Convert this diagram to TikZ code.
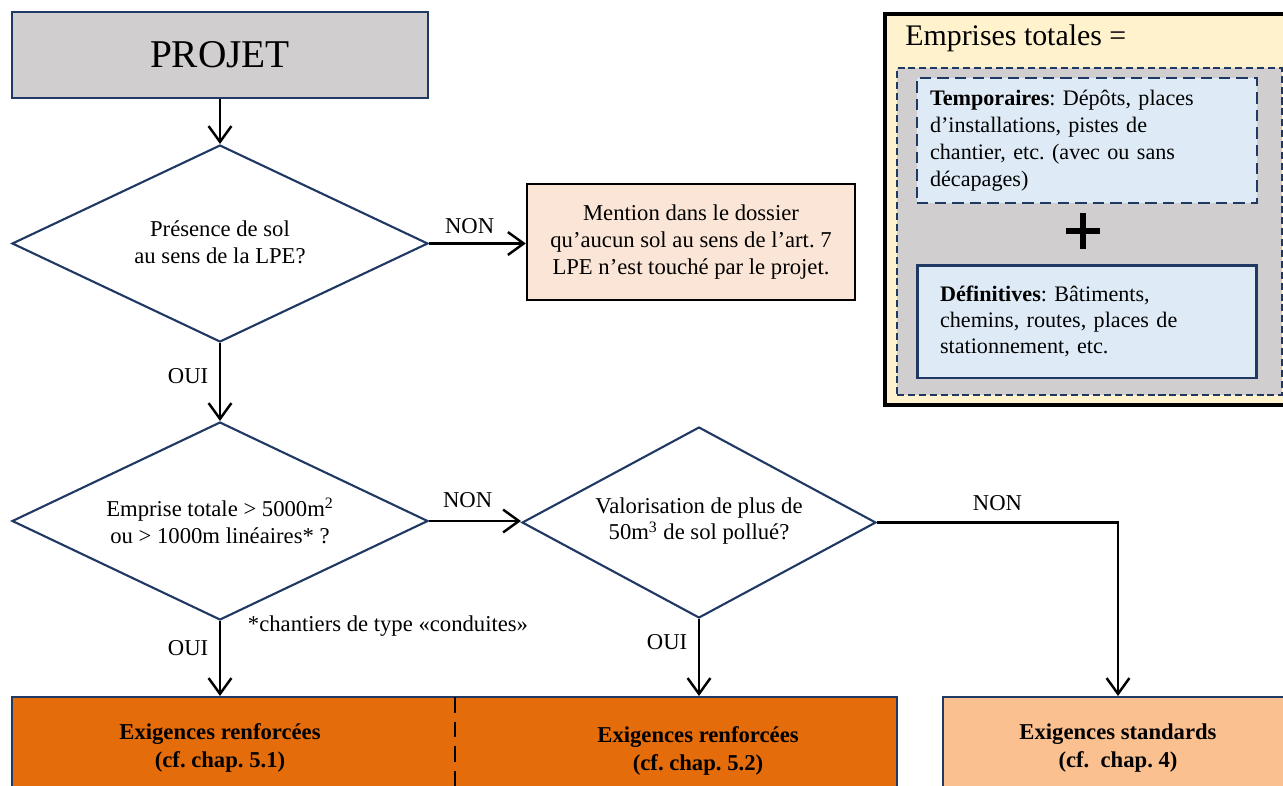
\documentclass[tikz,border=0pt]{standalone}
\usepackage{fontspec}
\setmainfont{Liberation Serif}
\usetikzlibrary{shapes.geometric,arrows.meta}
\definecolor{navy}{HTML}{1F3864}
\definecolor{projgray}{HTML}{D0CECE}
\definecolor{mentionfill}{HTML}{FBE5D6}
\definecolor{orangefill}{HTML}{E46C0A}
\definecolor{stdfill}{HTML}{FAC090}
\definecolor{yellowfill}{HTML}{FFF2CC}
\definecolor{bluefill}{HTML}{DEEBF7}
\frenchspacing
\begin{document}
\begin{tikzpicture}[x=0.02cm,y=-0.02cm,
  box/.style={draw=navy,line width=1.2pt,rectangle,inner sep=0pt},
  dia/.style={draw=navy,line width=1.2pt,diamond,inner sep=0pt},
  arr/.style={line width=1.4pt,-{Straight Barb[length=9pt,width=13pt]}},
  txt/.style={font=\fontsize{12.9}{15.3}\selectfont,align=center,inner sep=0pt},
  btxt/.style={font=\fontsize{12.9}{15.9}\selectfont\bfseries,align=center,inner sep=0pt},
  lbl/.style={font=\fontsize{12.9}{14}\selectfont,inner sep=0pt}]
\useasboundingbox (0,0) rectangle (1283,785);
\clip (0,0) rectangle (1283,785);
\fill[white] (0,0) rectangle (1283,785);

% PROJET
\node[box,fill=projgray,minimum width=8.32cm,minimum height=1.72cm,
  font=\fontsize{22.4}{26}\selectfont] (p) at (220,55) {PROJET};

% Diamond 1
\node[dia,minimum width=8.32cm,minimum height=3.94cm] (d1) at (220,243.5) {};
\node[txt] (d1t) at (220,242) {Présence de sol\\au sens de la LPE?};

% Mention box
\node[draw=black,line width=1.4pt,fill=mentionfill,minimum width=6.56cm,minimum height=2.32cm,
  txt] (m) at (691,242) {Mention dans le dossier\\qu’aucun sol au sens de l’art. 7\\LPE n’est touché par le projet.};

% Diamond 2
\node[dia,minimum width=8.32cm,minimum height=3.96cm] (d2) at (220,521) {};
\node[txt] (d2t) at (220,521) {Emprise totale > 5000m\textsuperscript{2}\\ou > 1000m linéaires* ?};

% Diamond 3
\node[dia,minimum width=7.08cm,minimum height=3.82cm] (d3) at (699,522.5) {};
\node[txt] (d3t) at (699,521) {Valorisation de plus de\\50m\textsuperscript{3} de sol pollué?};

% Bottom boxes
\node[box,fill=orangefill,minimum width=17.7cm,minimum height=2.06cm] (r) at (454.5,748.5) {};
\coordinate (dv1) at (455,697);
\coordinate (dv2) at (455,790);
\draw[line width=1.2pt,dash pattern=on 9pt off 5pt] (dv1) -- (dv2);
\node[btxt] (r1t) at (220,748) {Exigences renforcées\\(cf. chap. 5.1)};
\node[btxt] (r2t) at (698,751) {Exigences renforcées\\(cf. chap. 5.2)};
\node[box,fill=stdfill,minimum width=7cm,minimum height=2.06cm] (s) at (1118,748.5) {};
\node[btxt] (st) at (1118,748) {Exigences standards\\(cf.\ \ chap. 4)};

% Connectors
\draw[arr] (p.south) -- (d1.north);
\draw[arr] (d1.east) -- (d1.east -| m.west) node[lbl,pos=0.42,above=5pt] {NON};
\draw[arr] (d1.south) -- (d2.north) node[lbl,pos=0.42,left=6pt] {OUI};
\draw[arr] (d2.east) -- (d2.east -| d3.west) node[lbl,pos=0.42,above=7pt] {NON};
\draw[arr] (d2.south) -- (d2.south |- r.north) node[lbl,pos=0.36,left=6pt] {OUI};
\draw[arr] (d3.south) -- (d3.south |- r.north) node[lbl,pos=0.3,left=6pt] {OUI};
\draw[arr] (d3.east) -| (s.north) node[lbl,pos=0.25,above=6pt] {NON};
\node[lbl] (note) at (388,626) {*chantiers de type «conduites»};

% Emprises totales
\node[draw=black,line width=2.4pt,fill=yellowfill,rectangle,inner sep=0pt,
  minimum width=8.2cm,minimum height=7.82cm] (e) at (1090,209.5) {};
\node[font=\fontsize{17}{20}\selectfont,anchor=west,inner sep=0pt] (et) at (905,38) {Emprises totales =};
\node[draw=navy,line width=1.1pt,dash pattern=on 4pt off 2.2pt,fill=projgray,rectangle,inner sep=0pt,
  minimum width=7.7cm,minimum height=6.54cm] (g) at (1089.5,231.5) {};
\node[draw=navy,line width=1.4pt,dash pattern=on 6.5pt off 3.5pt,fill=bluefill,rectangle,
  minimum width=6.8cm,minimum height=2.5cm,inner xsep=0.26cm,inner ysep=0pt,
  text width=6.28cm,align=left,font=\fontsize{12.6}{15.3}\selectfont] (t) at (1087,140.5)
  {\textbf{Temporaires}: Dépôts, places\\d’installations, pistes de\\chantier, etc. (avec ou sans\\décapages)};
\node[draw=navy,line width=1.7pt,fill=bluefill,rectangle,
  minimum width=6.8cm,minimum height=2.26cm,inner xsep=0.46cm,inner ysep=0pt,
  text width=5.88cm,align=left,font=\fontsize{12.6}{14.6}\selectfont] (d) at (1087,321.5)
  {\textbf{Définitives}: Bâtiments,\\chemins, routes, places de\\stationnement, etc.};
\coordinate (pl1) at (1066,231);
\coordinate (pl2) at (1100,231);
\coordinate (pl3) at (1083,213);
\coordinate (pl4) at (1083,249);
\draw[line width=3.4pt] (pl1) -- (pl2);
\draw[line width=3.4pt] (pl3) -- (pl4);
\end{tikzpicture}
\end{document}
